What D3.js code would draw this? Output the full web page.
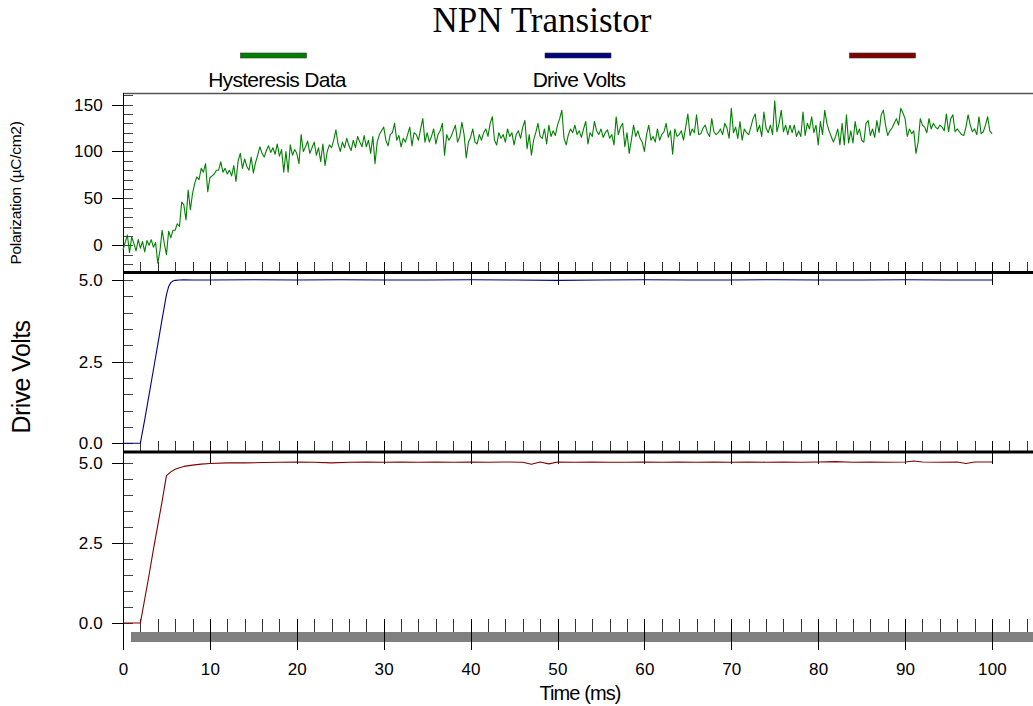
<!DOCTYPE html>
<html><head><meta charset="utf-8">
<script src="https://cdn.jsdelivr.net/npm/d3@7"></script>
<style>
body{margin:0;background:#fff}
svg{display:block;font-family:"Liberation Sans",Arial,sans-serif}
</style>
</head><body>
<svg id="chart" width="1033" height="706"></svg>
<script>
// ---------------- DATA ----------------
const chartTitle = "NPN Transistor";
const seriesNames = ["Hysteresis Data", "Drive Volts", ""];
const seriesColors = ["#008000", "#000080", "#800000"];
const timeLabel = "Time (ms)";
const polLabel = "Polarization (\u00b5C/cm2)";
const voltLabel = "Drive Volts";

const timeMajorTicks = [0, 10, 20, 30, 40, 50, 60, 70, 80, 90, 100];
const timeMinorTicks = [0,2,4,6,8,10,12,14,16,18,20,22,24,26,28,30,32,34,36,38,40,42,44,46,48,50,52,54,56,58,60,62,64,66,68,70,72,74,76,78,80,82,84,86,88,90,92,94,96,98,100,102,104];
const polMajorTicks = [0, 50, 100, 150];
const polMinorTicks = [-20,-10,0,10,20,30,40,50,60,70,80,90,100,110,120,130,140,150,160];
const voltMajorTicks = [0, 2.5, 5];
const voltMinorTicks = [0,0.5,1,1.5,2,2.5,3,3.5,4,4.5,5];

// Hysteresis data, sampled every 0.25 ms from 0 ms
const polStart = 0, polStep = 0.25;
const polarization = [
-5, 3, 11, -8,   9, 2, -6, 6,   -3, 4, -7, 5,   0, 6, -2, 3,
-19, -6, 16, 2,   -10, 15, 8, 16,   16, 23, 20, 46,   43, 27, 59, 38,
55, 66, 73, 70,   82, 78, 87, 57,
72, 74, 76, 80,   80, 89, 78, 82,   76, 80, 74, 85,   68, 90, 98, 82,
92, 84, 80, 94,   77, 88, 96, 105,   98, 94, 101, 106,   99, 104, 97, 108,
95, 102, 78, 100,   78, 107, 96, 102,
98, 87, 118, 100,   105, 111, 98, 104,   110, 96, 104, 89,   108, 85, 100, 107,
104, 112, 123, 108,   100, 110, 104, 114,   106, 101, 112, 104,   116, 110, 105, 117,
105, 112, 98, 116,   87, 110, 118, 122,
126, 112, 106, 118,   120, 130, 112, 117,   105, 114, 110, 118,   126, 106, 120, 118,
112, 124, 135, 110,   120, 110, 116, 124,   108, 118, 122, 130,   96, 118, 112, 116,
122, 128, 110, 116,   131, 118, 93, 110,
115, 124, 110, 108,   118, 112, 120, 124,   116, 130, 137, 112,   107, 120, 114, 118,
110, 124, 116, 120,   107, 118, 122, 114,   126, 133, 103, 118,   96, 112, 120, 130,
116, 114, 124, 108,   128, 116, 122, 117,
128, 135, 144, 114,   107, 118, 124, 120,   128, 118, 122, 115,   124, 132, 108, 120,
116, 132, 122, 118,   124, 115, 120, 123,   114, 118, 107, 137,   118, 126, 130, 105,
120, 98, 112, 128,   116, 122, 114, 110,
100, 118, 128, 112,   116, 110, 124, 112,   118, 121, 130, 115,   122, 97, 124, 116,
118, 122, 112, 126,   140, 117, 124, 120,   139, 118, 119, 125,   128, 120, 116, 135,
121, 118, 120, 124,   118, 130, 125, 114,
146, 120, 126, 114,   132, 112, 124, 120,   118, 126, 135, 140,   121, 128, 116, 142,
125, 120, 128, 118,   154, 121, 130, 144,   121, 128, 118, 128,   120, 128, 116, 122,
116, 142, 117, 130,   124, 137, 120, 128,
107, 132, 118, 144,   130, 122, 116, 110,   116, 124, 107, 130,   107, 139, 109, 122,
109, 132, 118, 124,   112, 110, 130, 133,   117, 124, 115, 133,   120, 139, 144, 128,
117, 122, 125, 130,   135, 128, 146, 141,
135, 116, 124, 119,   122, 98, 110, 135,   128, 126, 120, 135,   124, 130, 126, 124,
128, 126, 122, 140,   121, 135, 139, 121,   124, 121, 118, 117,   126, 139, 128, 121,
124, 118, 137, 119,   121, 128, 137, 122,
119
];

// Drive volts (middle panel)
const driveTime  = [0, 1, 2, 2.5, 3, 3.5, 4, 4.5, 5, 5.25, 5.5, 5.75, 6, 6.5, 7, 8, 10, 15, 20, 25, 30, 35, 40, 45, 50, 55, 60, 65, 70, 75, 80, 85, 90, 95, 100];
const driveVolts = [0, 0, 0, 0.72, 1.48, 2.25, 3.02, 3.8, 4.55, 4.8, 4.92, 4.97, 4.99, 5.0, 5.01, 5.0, 5.0, 5.01, 5.0, 5.01, 5.0, 5.0, 5.01, 5.0, 4.99, 5.0, 5.01, 5.0, 5.0, 5.01, 5.0, 5.0, 5.01, 5.0, 5.0];

// Output volts (bottom panel)
const outTime  = [0, 1, 2, 2.5, 3, 3.5, 4, 4.5, 5, 5.5, 6, 6.5, 7, 8, 9, 10, 12, 14, 16, 18, 20, 22, 24, 26, 28, 30, 32, 34, 36, 38, 40, 42, 44, 46, 47, 48, 49, 50, 52, 54, 56, 58, 60, 62, 64, 66, 68, 70, 72, 74, 76, 78, 80, 82, 84, 86, 88, 90, 91, 92, 94, 96, 97, 98, 100];
const outVolts = [0, 0, 0, 0.75, 1.5, 2.3, 3.05, 3.8, 4.6, 4.72, 4.8, 4.85, 4.89, 4.93, 4.96, 4.98, 5.0, 5.0, 5.01, 5.02, 5.03, 5.02, 5.0, 5.02, 5.03, 5.02, 5.03, 5.02, 5.03, 5.02, 5.03, 5.02, 5.03, 5.02, 4.96, 5.03, 4.97, 5.03, 5.02, 5.03, 5.02, 5.02, 5.03, 5.02, 5.03, 5.02, 5.03, 5.02, 5.03, 5.02, 5.03, 5.02, 5.03, 5.04, 5.02, 5.03, 5.02, 5.03, 5.06, 5.03, 5.02, 5.03, 4.98, 5.03, 5.03];

// ---------------- LAYOUT ----------------
const svg = d3.select("#chart");
const X0 = 123, PX_PER_MS = 8.69;
const x = d3.scaleLinear().domain([0, 106]).range([X0, X0 + 106 * PX_PER_MS]);

const panels = [
  {y: d3.scaleLinear().domain([-29, 162]).range([272.5, 93.3]), major: polMajorTicks, minor: polMinorTicks, fmt: d3.format("d")},
  {y: d3.scaleLinear().domain([-0.27, 5.23]).range([452, 272.5]), major: voltMajorTicks, minor: voltMinorTicks, fmt: d3.format(".1f")},
  {y: d3.scaleLinear().domain([-0.28, 5.34]).range([632, 452]), major: voltMajorTicks, minor: voltMinorTicks, fmt: d3.format(".1f")}
];

const FONT = "'Liberation Sans', Arial, sans-serif";
const TICK_FS = "17px";

// Title
svg.append("text").attr("x", 542).attr("y", 32).attr("text-anchor", "middle")
  .style("font-family", "'Liberation Serif','Times New Roman',serif").style("font-size", "35px")
  .attr("fill", "#000").text(chartTitle);

// Legend
const legendCenters = [273.5, 578, 882.5];
const legendLabelX = [277, 579, 882];
seriesNames.forEach((name, i) => {
  svg.append("rect").attr("x", legendCenters[i] - 33).attr("y", 53).attr("width", 66).attr("height", 5)
    .attr("fill", seriesColors[i]).attr("stroke", "#333").attr("stroke-width", 0.6);
  svg.append("text").attr("x", legendLabelX[i]).attr("y", 87).attr("text-anchor", "middle")
    .style("font-family", FONT).style("font-size", "21px").style("letter-spacing", "-0.7px")
    .text(name);
});

// Top border of plot
svg.append("line").attr("x1", X0).attr("x2", 1033).attr("y1", 93.5).attr("y2", 93.5)
  .attr("stroke", "#555").attr("stroke-width", 1.5);

// Grey bar under the bottom panel
svg.append("rect").attr("x", 131).attr("y", 632).attr("width", 1033 - 131).attr("height", 10).attr("fill", "#808080");

function styleAxis(g, color) {
  g.select(".domain").remove();
  g.selectAll("line").attr("stroke", color || "#000").attr("shape-rendering", "crispEdges");
  g.selectAll("text").style("font-family", FONT).style("font-size", TICK_FS).attr("fill", "#000");
}

panels.forEach((p, i) => {
  const [yBottom, yTop] = p.y.range();
  // y minor ticks (inside)
  svg.append("g").attr("transform", `translate(${X0},0)`)
    .call(d3.axisLeft(p.y).tickValues(p.minor).tickSize(-10).tickFormat(""))
    .call(g => styleAxis(g, "#444"));
  // y major ticks (outside) + labels
  svg.append("g").attr("transform", `translate(${X0},0)`)
    .call(d3.axisLeft(p.y).tickValues(p.major).tickSize(11).tickPadding(9).tickFormat(p.fmt))
    .call(g => styleAxis(g, "#000"))
    .call(g => g.selectAll("text").style("letter-spacing", "0.2px"));
  // x minor ticks (inside, at panel bottom)
  const inner = i === 2 ? 13 : 11;
  svg.append("g").attr("transform", `translate(0,${yBottom})`)
    .call(d3.axisBottom(x).tickValues(timeMinorTicks).tickSize(-inner).tickFormat(""))
    .call(g => styleAxis(g, "#333"));
  // x major ticks crossing
  svg.append("g").attr("transform", `translate(0,${yBottom})`)
    .call(d3.axisBottom(x).tickValues(timeMajorTicks).tickSize(-inner).tickFormat(""))
    .call(g => styleAxis(g, "#000"));
  const outer = i === 2 ? 18 : 12;
  const xAx = d3.axisBottom(x).tickValues(timeMajorTicks).tickSize(outer).tickPadding(13);
  if (i !== 2) xAx.tickFormat("");
  svg.append("g").attr("transform", `translate(0,${yBottom})`)
    .call(xAx)
    .call(g => styleAxis(g, "#000"))
    .call(g => g.selectAll("text").style("letter-spacing", "0.2px"));
});

// Separator lines
[272.5, 452].forEach(yy => {
  svg.append("line").attr("x1", X0).attr("x2", 1033).attr("y1", yy).attr("y2", yy)
    .attr("stroke", "#000").attr("stroke-width", 3);
});

// Left axis line
svg.append("line").attr("x1", X0).attr("x2", X0).attr("y1", 93).attr("y2", 650)
  .attr("stroke", "#000").attr("stroke-width", 1).attr("shape-rendering", "crispEdges");

// Series lines
const polData = polarization.map((v, i) => ({t: polStart + i * polStep, v}));
const driveData = driveTime.map((t, i) => ({t, v: driveVolts[i]}));
const outData = outTime.map((t, i) => ({t, v: outVolts[i]}));

const seriesData = [polData, driveData, outData];
seriesData.forEach((data, i) => {
  const y = panels[i].y;
  svg.append("path").datum(data)
    .attr("fill", "none").attr("stroke", seriesColors[i]).attr("stroke-width", 1.1)
    .attr("stroke-linejoin", "round")
    .attr("d", d3.line().x(d => x(d.t)).y(d => y(d.v)));
});

// Axis titles
svg.append("text").attr("transform", "translate(580,700)").attr("text-anchor", "middle")
  .style("font-family", FONT).style("font-size", "20px").style("letter-spacing", "-0.9px").text(timeLabel);
svg.append("text").attr("transform", "translate(21,193) rotate(-90)").attr("text-anchor", "middle")
  .style("font-family", FONT).style("font-size", "15.5px").style("letter-spacing", "-0.3px").text(polLabel);
svg.append("text").attr("transform", "translate(30,377) rotate(-90)").attr("text-anchor", "middle")
  .style("font-family", FONT).style("font-size", "25px").style("letter-spacing", "-0.6px").text(voltLabel);
</script>
</body></html>
